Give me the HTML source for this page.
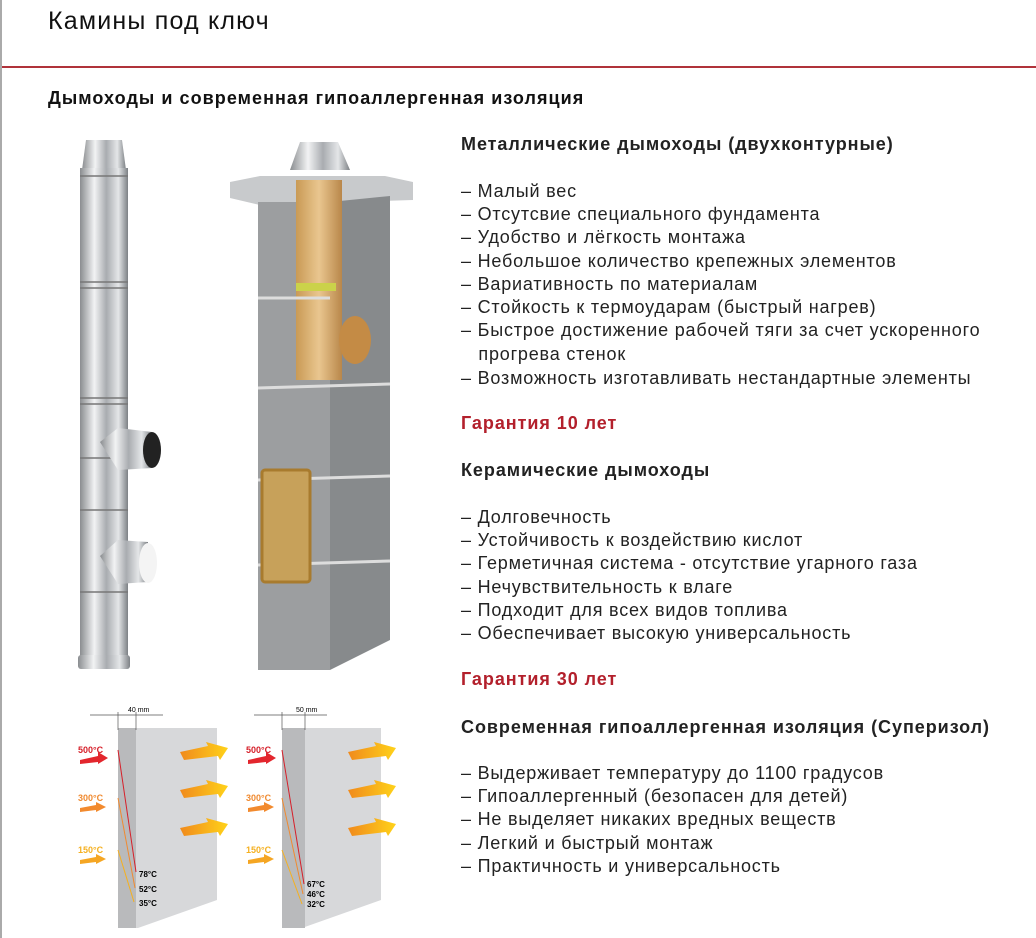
<!DOCTYPE html>
<html><head><meta charset="utf-8"><style>
body{margin:0;width:1036px;height:938px;background:#fff;position:relative;overflow:hidden;font-family:"Liberation Sans",sans-serif;color:#222}
.t{position:absolute;left:461px;font-size:18px;line-height:22px;white-space:nowrap;letter-spacing:0.8px}
.h{font-weight:bold;letter-spacing:0.95px}
.r{color:#b3202c}
</style></head><body>
<div style="position:absolute;left:0;top:0;width:2px;height:938px;background:#aaa"></div>
<div style="position:absolute;left:48px;top:7px;font-size:25px;color:#111;letter-spacing:1.2px">Камины под ключ</div>
<div style="position:absolute;left:2px;top:66px;width:1034px;height:2px;background:#b0323a"></div>
<div style="position:absolute;left:48px;top:88px;font-size:18px;color:#111;font-weight:bold;letter-spacing:1.05px">Дымоходы и современная гипоаллергенная изоляция</div>

<div class="t h" style="top:133px">Металлические дымоходы (двухконтурные)</div>
<div class="t" style="top:180px">– Малый вес</div>
<div class="t" style="top:203px">– Отсутсвие специального фундамента</div>
<div class="t" style="top:226px">– Удобство и лёгкость монтажа</div>
<div class="t" style="top:250px">– Небольшое количество крепежных элементов</div>
<div class="t" style="top:273px">– Вариативность по материалам</div>
<div class="t" style="top:296px">– Стойкость к термоударам (быстрый нагрев)</div>
<div class="t" style="top:319px">– Быстрое достижение рабочей тяги за счет ускоренного</div>
<div class="t" style="top:343px">&nbsp;&nbsp;&nbsp;прогрева стенок</div>
<div class="t" style="top:367px">– Возможность изготавливать нестандартные элементы</div>
<div class="t r h" style="top:412px">Гарантия 10 лет</div>
<div class="t h" style="top:459px">Керамические дымоходы</div>
<div class="t" style="top:506px">– Долговечность</div>
<div class="t" style="top:529px">– Устойчивость к воздействию кислот</div>
<div class="t" style="top:552px">– Герметичная система - отсутствие угарного газа</div>
<div class="t" style="top:576px">– Нечувствительность к влаге</div>
<div class="t" style="top:599px">– Подходит для всех видов топлива</div>
<div class="t" style="top:622px">– Обеспечивает высокую универсальность</div>
<div class="t r h" style="top:668px">Гарантия 30 лет</div>
<div class="t h" style="top:716px">Современная гипоаллергенная изоляция (Суперизол)</div>
<div class="t" style="top:762px">– Выдерживает температуру до 1100 градусов</div>
<div class="t" style="top:785px">– Гипоаллергенный (безопасен для детей)</div>
<div class="t" style="top:808px">– Не выделяет никаких вредных веществ</div>
<div class="t" style="top:832px">– Легкий и быстрый монтаж</div>
<div class="t" style="top:855px">– Практичность и универсальность</div>

<svg style="position:absolute;left:0;top:0" width="460" height="938">
<defs>
<linearGradient id="st" x1="0" x2="1"><stop offset="0" stop-color="#8a8d90"/><stop offset=".3" stop-color="#f2f3f4"/><stop offset=".55" stop-color="#a9acb0"/><stop offset=".8" stop-color="#e4e6e8"/><stop offset="1" stop-color="#7d8185"/></linearGradient>
<linearGradient id="cl" x1="0" x2="1"><stop offset="0" stop-color="#c99a55"/><stop offset=".5" stop-color="#e9c68f"/><stop offset="1" stop-color="#b9874a"/></linearGradient>
<linearGradient id="ar" x1="0" x2="1"><stop offset="0" stop-color="#f08a1c"/><stop offset="1" stop-color="#ffd21a"/></linearGradient>
</defs>
<path d="M86 140 L122 140 L126 170 L82 170 Z" fill="url(#st)"/>
<rect x="80" y="168" width="48" height="492" fill="url(#st)"/>
<rect x="78" y="655" width="52" height="14" rx="3" fill="url(#st)"/>
<g stroke="#777" stroke-width="1.5"><line x1="80" y1="176" x2="128" y2="176"/><line x1="80" y1="282" x2="128" y2="282"/><line x1="80" y1="288" x2="128" y2="288"/><line x1="80" y1="398" x2="128" y2="398"/><line x1="80" y1="404" x2="128" y2="404"/><line x1="80" y1="458" x2="128" y2="458"/><line x1="80" y1="510" x2="128" y2="510"/><line x1="80" y1="592" x2="128" y2="592"/></g>
<path d="M100 442 L118 428 L152 432 L152 468 L118 470 Z" fill="url(#st)"/>
<ellipse cx="152" cy="450" rx="9" ry="18" fill="#222"/>
<path d="M100 556 L118 540 L148 542 L148 582 L118 584 Z" fill="url(#st)"/>
<ellipse cx="148" cy="563" rx="9" ry="20" fill="#f4f4f4"/>
<path d="M290 170 L300 142 L338 142 L350 170 Z" fill="url(#st)"/>
<path d="M230 182 L260 176 L385 176 L413 182 L413 200 L260 205 L230 198 Z" fill="#c8cacc"/>
<rect x="258" y="202" width="72" height="468" fill="#9c9ea0"/>
<path d="M330 202 L390 196 L390 640 L330 670 Z" fill="#878a8c"/>
<rect x="296" y="180" width="46" height="200" fill="url(#cl)"/>
<ellipse cx="355" cy="340" rx="16" ry="24" fill="#c48b45"/>
<rect x="296" y="283" width="40" height="8" fill="#cbd24a"/>
<g stroke="#ddd" stroke-width="3"><line x1="258" y1="298" x2="330" y2="298"/><line x1="258" y1="388" x2="390" y2="384"/><line x1="258" y1="480" x2="390" y2="476"/><line x1="258" y1="565" x2="390" y2="561"/></g>
<rect x="262" y="470" width="48" height="112" rx="3" fill="#c7a15a" stroke="#a87b2e" stroke-width="3"/>
<g font-family="Liberation Sans" font-weight="bold">
<g transform="translate(60,700)">
<path d="M58 28 L157 28 L157 200 L78 228 L58 228 Z" fill="#d7d8da"/>
<rect x="58" y="28" width="18" height="200" fill="#b9babc"/>
<line x1="30" y1="15" x2="103" y2="15" stroke="#555" stroke-width=".7"/><line x1="58" y1="12" x2="58" y2="30" stroke="#555" stroke-width=".7"/><line x1="76" y1="12" x2="76" y2="30" stroke="#555" stroke-width=".7"/>
<text x="68" y="12" font-size="7" font-weight="normal">40 mm</text>
<text x="18" y="53" font-size="9" fill="#d6202a">500°C</text><text x="18" y="101" font-size="9" fill="#f08a30">300°C</text><text x="18" y="153" font-size="9" fill="#f5b020">150°C</text>
<path d="M20 60 L38 56 L38 52 L48 58 L38 64 L38 62 L20 64Z" fill="#e3262d"/>
<path d="M20 108 L36 105 L36 102 L46 107 L36 112 L36 110 L20 112Z" fill="#f28a2e"/>
<path d="M20 160 L36 157 L36 154 L46 159 L36 164 L36 162 L20 164Z" fill="#f5a623"/>
<g fill="url(#ar)"><path d="M120 52 L148 46 L146 42 L168 48 L160 60 L158 56 L124 60Z"/><path d="M120 90 L148 84 L146 80 L168 86 L160 98 L158 94 L124 98Z"/><path d="M120 128 L148 122 L146 118 L168 124 L160 136 L158 132 L124 136Z"/></g>
<line x1="58" y1="50" x2="76" y2="172" stroke="#d6202a"/><line x1="58" y1="98" x2="75" y2="188" stroke="#f08a30"/><line x1="58" y1="150" x2="74" y2="202" stroke="#f5b020"/>
<text x="79" y="177" font-size="8">78°C</text><text x="79" y="192" font-size="8">52°C</text><text x="79" y="206" font-size="8">35°C</text>
</g>
<g transform="translate(224,700)">
<path d="M58 28 L157 28 L157 200 L78 228 L58 228 Z" fill="#d7d8da"/>
<rect x="58" y="28" width="23" height="200" fill="#b9babc"/>
<line x1="30" y1="15" x2="103" y2="15" stroke="#555" stroke-width=".7"/><line x1="58" y1="12" x2="58" y2="30" stroke="#555" stroke-width=".7"/><line x1="81" y1="12" x2="81" y2="30" stroke="#555" stroke-width=".7"/>
<text x="72" y="12" font-size="7" font-weight="normal">50 mm</text>
<text x="22" y="53" font-size="9" fill="#d6202a">500°C</text><text x="22" y="101" font-size="9" fill="#f08a30">300°C</text><text x="22" y="153" font-size="9" fill="#f5b020">150°C</text>
<path d="M24 60 L42 56 L42 52 L52 58 L42 64 L42 62 L24 64Z" fill="#e3262d"/>
<path d="M24 108 L40 105 L40 102 L50 107 L40 112 L40 110 L24 112Z" fill="#f28a2e"/>
<path d="M24 160 L40 157 L40 154 L50 159 L40 164 L40 162 L24 164Z" fill="#f5a623"/>
<g fill="url(#ar)"><path d="M124 52 L152 46 L150 42 L172 48 L164 60 L162 56 L128 60Z"/><path d="M124 90 L152 84 L150 80 L172 86 L164 98 L162 94 L128 98Z"/><path d="M124 128 L152 122 L150 118 L172 124 L164 136 L162 132 L128 136Z"/></g>
<line x1="58" y1="50" x2="80" y2="184" stroke="#d6202a"/><line x1="58" y1="98" x2="79" y2="194" stroke="#f08a30"/><line x1="58" y1="150" x2="78" y2="204" stroke="#f5b020"/>
<text x="83" y="187" font-size="8">67°C</text><text x="83" y="197" font-size="8">46°C</text><text x="83" y="207" font-size="8">32°C</text>
</g>
</g>
</svg>
</body></html>
